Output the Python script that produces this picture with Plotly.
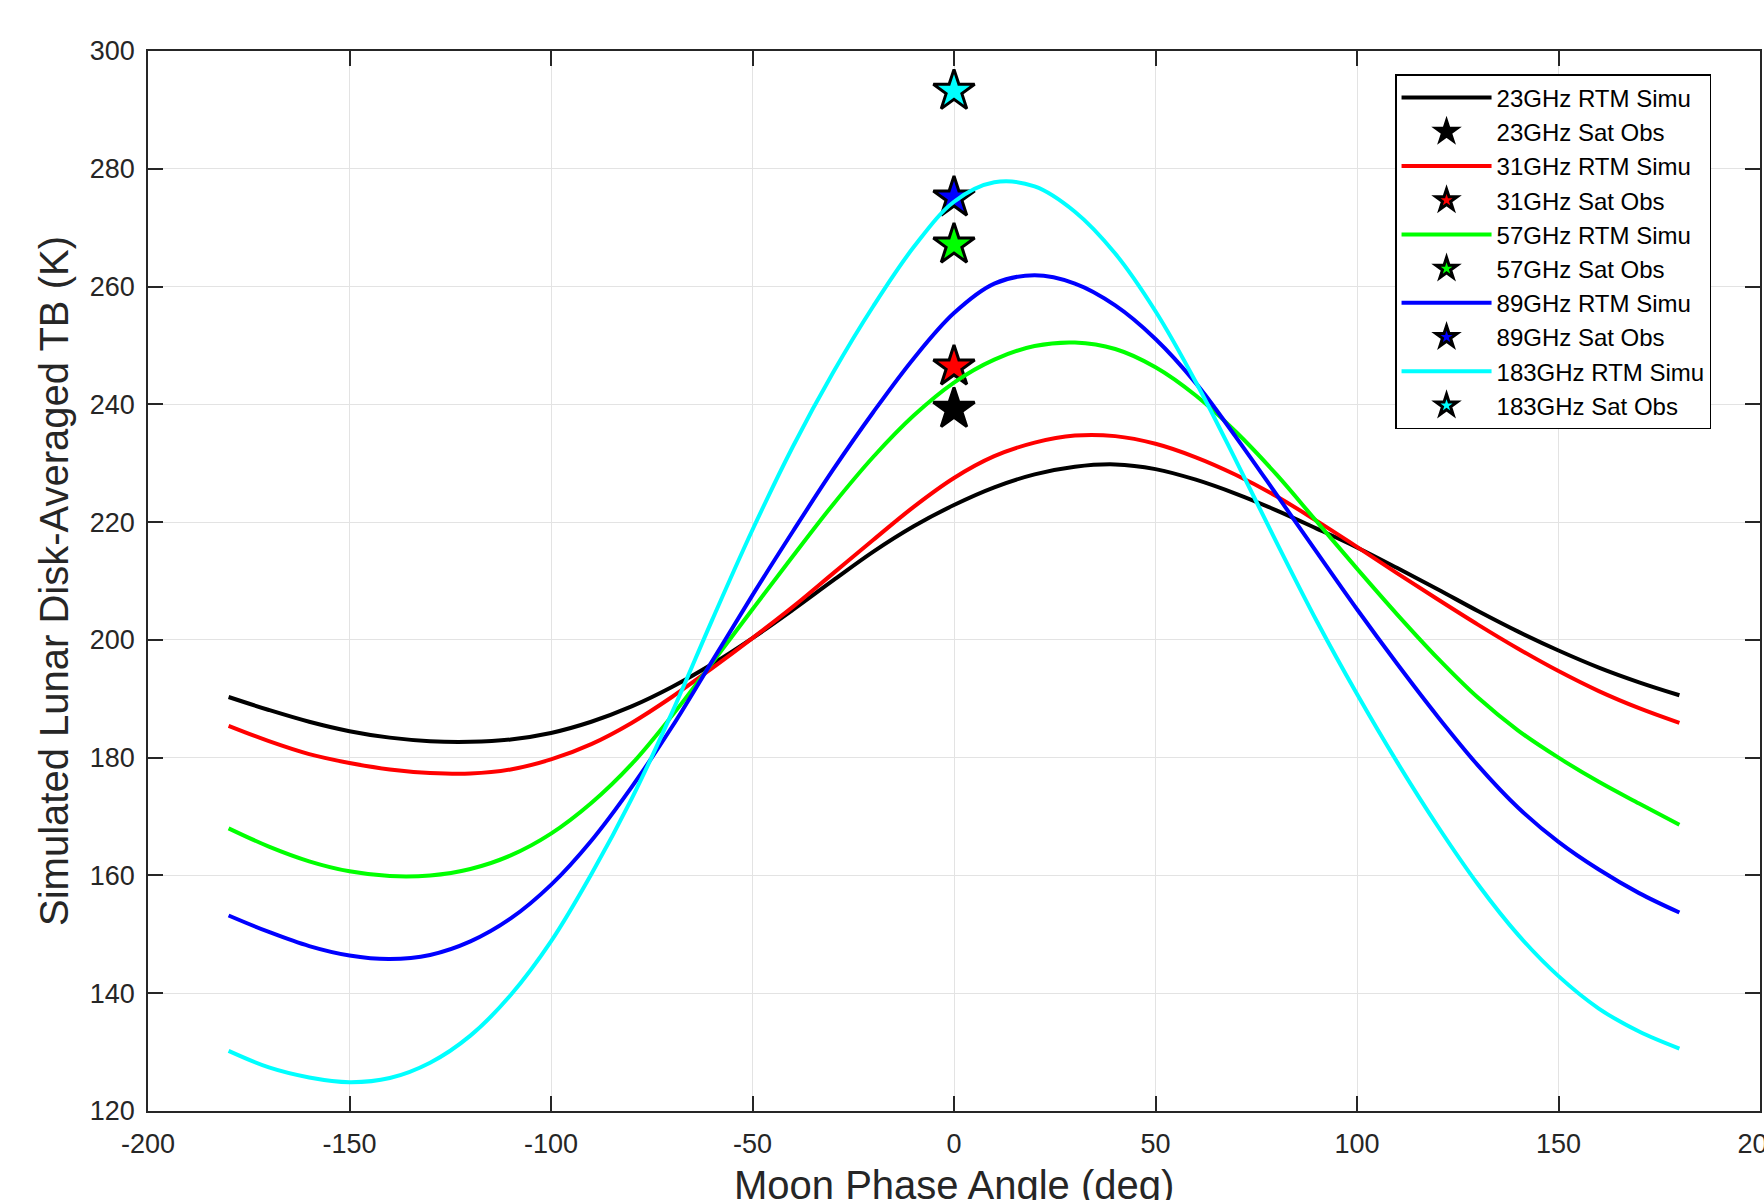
import plotly.graph_objects as go

# Moon phase angle grid (deg)
phase = list(range(-180, 181, 10))

# Simulated disk-averaged brightness temperature (K) per channel
tb_23 = [190.3, 188.1, 186.1, 184.5, 183.4, 182.8, 182.7, 183.1, 184.2, 186.1,
         188.7, 192.0, 195.9, 200.3, 205.1, 210.1, 215.0, 219.3, 222.9,
         225.9, 228.1, 229.4, 229.8, 229.0, 227.2, 224.8, 222.0, 218.9, 215.7,
         212.2, 208.6, 204.9, 201.4, 198.2, 195.3, 192.8, 190.6]
tb_31 = [185.4, 182.8, 180.6, 179.1, 178.0, 177.4, 177.3, 178.0, 179.7, 182.3,
         185.9, 190.3, 195.2, 200.3, 205.6, 211.3, 217.0, 222.6, 227.5,
         231.2, 233.5, 234.7, 234.6, 233.3, 231.0, 228.0, 224.4, 220.2, 215.8,
         211.3, 206.9, 202.6, 198.5, 194.7, 191.3, 188.4, 185.9]
tb_57 = [168.0, 164.9, 162.4, 160.7, 159.9, 160.0, 161.1, 163.4, 167.1, 172.3,
         178.9, 187.1, 196.1, 205.2, 214.2, 223.0, 231.1, 238.1, 243.7,
         247.6, 249.9, 250.5, 249.4, 246.3, 241.5, 235.3, 228.1, 220.1, 212.1,
         204.3, 196.9, 190.2, 184.6, 180.0, 175.9, 172.2, 168.6]
tb_89 = [153.2, 150.4, 148.0, 146.4, 145.8, 146.5, 148.8, 152.7, 158.4, 165.9,
         175.0, 185.2, 196.4, 207.6, 218.4, 228.9, 238.7, 247.8, 255.5,
         260.5, 261.9, 260.5, 256.8, 251.1, 243.6, 234.4, 224.7, 214.9, 205.2,
         195.9, 187.0, 178.7, 171.5, 165.7, 161.0, 157.0, 153.7]
tb_183 = [130.2, 127.4, 125.7, 124.9, 125.6, 128.2, 132.8, 139.7, 148.8, 160.2,
          173.0, 187.6, 203.4, 218.7, 232.8, 245.4, 256.7, 266.7, 274.4,
          277.7, 277.0, 272.7, 265.6, 255.8, 243.8, 230.4, 216.6, 203.2, 190.8,
          179.2, 168.4, 158.5, 149.9, 142.9, 137.4, 133.5, 130.6]

# Satellite observations at phase angle 0
obs_phase = 0
obs_tb = [239.2, 246.4, 267.1, 275.1, 293.2]

channels = ["23GHz", "31GHz", "57GHz", "89GHz", "183GHz"]
simulated = [tb_23, tb_31, tb_57, tb_89, tb_183]
colors = ["#000000", "#ff0000", "#00ff00", "#0000ff", "#00ffff"]

# Axis ticks and their labels (plain hyphen for negatives)
x_ticks = [-200, -150, -100, -50, 0, 50, 100, 150, 200]
x_tick_text = ["-200", "-150", "-100", "-50", "0", "50", "100", "150", "200"]
y_ticks = [120, 140, 160, 180, 200, 220, 240, 260, 280, 300]
y_tick_text = ["120", "140", "160", "180", "200", "220", "240", "260", "280", "300"]

FONT = "Liberation Sans, Arial, Helvetica, sans-serif"
TEXT = "#262626"

fig = go.Figure()
for name, tb, obs, col in zip(channels, simulated, obs_tb, colors):
    fig.add_trace(go.Scatter(
        x=phase, y=tb, mode="lines", name=f"{name} RTM Simu",
        line=dict(color=col, width=4, shape="spline", smoothing=1.0),
    ))
    fig.add_trace(go.Scatter(
        x=[obs_phase], y=[obs], mode="markers", name=f"{name} Sat Obs",
        marker=dict(symbol="star", size=31, color=col,
                    line=dict(color="#000000", width=3)),
    ))

axis_common = dict(
    showgrid=True, gridcolor="#e3e3e3", gridwidth=1,
    showline=True, linecolor=TEXT, linewidth=1.5, mirror="allticks",
    ticks="inside", ticklen=15, tickwidth=1.5, tickcolor=TEXT,
    tickfont=dict(family=FONT, size=27, color=TEXT),
    zeroline=False, tickmode="array",
)

fig.update_layout(
    width=1764, height=1200,
    margin=dict(l=148, r=4, t=51, b=89),
    paper_bgcolor="white", plot_bgcolor="white",
    font=dict(family=FONT, color=TEXT),
    showlegend=True,
    legend=dict(
        x=0.7736, y=0.9783, xanchor="left", yanchor="top",
        bgcolor="white", bordercolor="#000000", borderwidth=1.5,
        font=dict(family=FONT, size=24, color="#000000"),
        itemwidth=90, tracegroupgap=0,
    ),
    xaxis=dict(
        range=[-200, 200], tickvals=x_ticks, ticktext=x_tick_text,
        ticklabelstandoff=8, ticklabeloverflow="allow",
        automargin=False, **axis_common,
    ),
    yaxis=dict(
        range=[120, 300], tickvals=y_ticks, ticktext=y_tick_text,
        title=dict(text="Simulated Lunar Disk-Averaged TB (K)",
                   font=dict(family=FONT, size=40, color=TEXT), standoff=9),
        ticklabelstandoff=6,
        automargin=False, **axis_common,
    ),
    annotations=[dict(
        text="Moon Phase Angle (deg)", xref="paper", yref="paper",
        x=0.5, y=-0.0472, xanchor="center", yanchor="top", showarrow=False,
        font=dict(family=FONT, size=40, color=TEXT),
    )],
)

fig.write_html("out.html")
